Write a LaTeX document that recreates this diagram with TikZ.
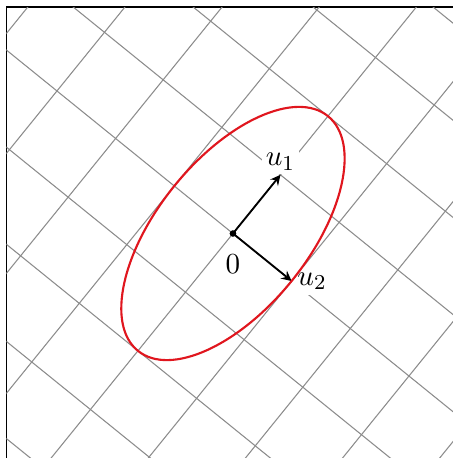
\documentclass[tikz,border=0pt]{standalone}
\usepackage{amsmath,amssymb}
\usepackage{xcolor}
\usepackage{tikz}
\usetikzlibrary{arrows,positioning,calc}
\definecolor{gridgray}{HTML}{8C8C8C}
\definecolor{ellipsered}{HTML}{E0161E}

\begin{document}
\begin{tikzpicture}[>=stealth, font=\fontsize{11.2}{13}\selectfont]
\tikzset{vec/.style={->, line width=0.7pt}, lab/.style={fill=white, inner sep=2pt}}
\useasboundingbox (-3.086,-2.974) rectangle (2.914,3.093);
\begin{scope}
\clip (-3.086,-2.974) rectangle (2.914,3.093);
\draw (-3,-3) rectangle (3,3);
\clip (-3,-3) rectangle (3,3);
\begin{scope}[rotate=51]
\foreach \i in {-6,...,6} {
  \draw[gridgray] (-7,\i) -- (7,\i);
  \draw[gridgray] (\i,-7) -- (\i,7);
}
\end{scope}
\end{scope}
\coordinate (o) at (0,0);
\coordinate (u1) at (51:1);
\coordinate (u2) at (-39:1);
\draw[vec] (o) -- (u1);
\draw[vec] (o) -- (u2);
\fill (o) circle (1.25pt);
\node[below=4.5pt] (zero) at (o) {$0$};
\node[lab, above, inner sep=1.5pt] (u1lab) at (u1) {$u_1$};
\node[lab, right] (u2lab) at (u2) {$u_2$};
\draw[ellipsered, thick, rotate=51] (o) ellipse (2 and 1);
\end{tikzpicture}
\end{document}
